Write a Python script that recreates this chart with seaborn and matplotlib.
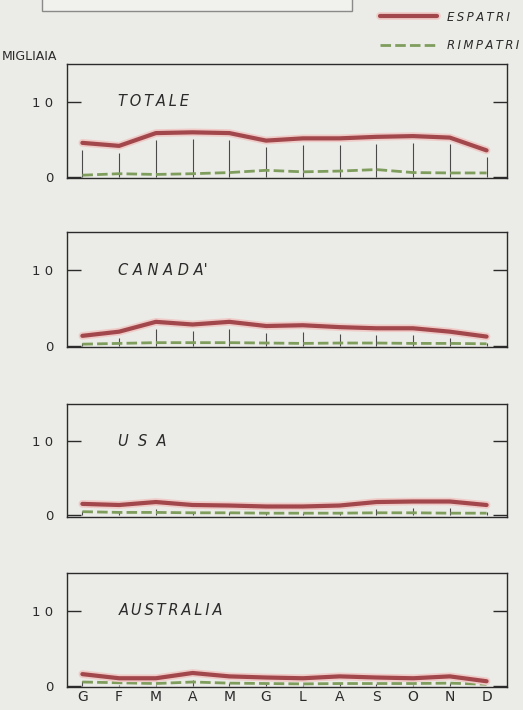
import numpy as np
import pandas as pd
import matplotlib
matplotlib.use('Agg')
import matplotlib.pyplot as plt
import matplotlib.patheffects as pe
import matplotlib.transforms as mtrans
from matplotlib.patches import Rectangle
from matplotlib.lines import Line2D
import seaborn as sns

# ====================== DATA (migliaia) ======================
mesi = ['G', 'F', 'M', 'A', 'M', 'G', 'L', 'A', 'S', 'O', 'N', 'D']
pannelli = ['T\u2009O\u2009T\u2009A\u2009L\u2009E', "C A N A D A'", 'U  S  A',
            'A\u2009U\u2009S\u2009T\u2009R\u2009A\u2009L\u2009I\u2009A']
legenda = ['E\u2009S\u2009P\u2009A\u2009T\u2009R\u2009I',
           'R\u2009I\u2009M\u2009P\u2009A\u2009T\u2009R\u2009I']

espatri_totale = [4.5, 4.1, 5.8, 5.9, 5.8, 4.8, 5.1, 5.1, 5.3, 5.4, 5.2, 3.5]
rimpatri_totale = [0.2, 0.4, 0.3, 0.4, 0.55, 0.85, 0.65, 0.75, 0.95, 0.55, 0.5, 0.5]

espatri_canada = [1.3, 1.85, 3.15, 2.8, 3.15, 2.6, 2.7, 2.45, 2.3, 2.3, 1.85, 1.2]
rimpatri_canada = [0.2, 0.3, 0.4, 0.4, 0.4, 0.35, 0.3, 0.35, 0.35, 0.3, 0.3, 0.25]

espatri_usa = [1.55, 1.4, 1.8, 1.4, 1.33, 1.2, 1.2, 1.33, 1.8, 1.87, 1.87, 1.4]
rimpatri_usa = [0.5, 0.4, 0.4, 0.35, 0.35, 0.3, 0.3, 0.3, 0.35, 0.35, 0.3, 0.3]

espatri_australia = [1.55, 1.0, 1.0, 1.7, 1.25, 1.1, 1.0, 1.25, 1.1, 1.0, 1.25, 0.6]
rimpatri_australia = [0.5, 0.4, 0.3, 0.5, 0.35, 0.3, 0.25, 0.3, 0.3, 0.3, 0.35, 0.2]

serie_esp = [espatri_totale, espatri_canada, espatri_usa, espatri_australia]
serie_rim = [rimpatri_totale, rimpatri_canada, rimpatri_usa, rimpatri_australia]

# ====================== STYLE ======================
BG = '#ebebe7'
RED = '#a2474b'
HALO = '#efcac6'
GREEN = '#7f9e5e'
INK = '#2b2b2b'

sns.set_theme(style='white')
plt.rcParams['font.family'] = ['DejaVu Sans']

fig = plt.figure(figsize=(5.23, 7.10), dpi=100, facecolor=BG)

# cut-off caption box at the top
fig.patches.append(Rectangle((42 / 523, 1 - 11 / 710), 310 / 523, 20 / 710,
                             transform=fig.transFigure, facecolor='#f1f1ee',
                             edgecolor='#8a8a88', lw=1.0, zorder=0))

# axes rectangles [left, bottom, width, height]
boxes = [
    [0.128, 0.749, 0.841, 0.161],
    [0.128, 0.511, 0.841, 0.162],
    [0.128, 0.272, 0.841, 0.159],
    [0.128, 0.032, 0.841, 0.161],
]

x = np.arange(len(mesi))
halo = [pe.Stroke(linewidth=5.5, foreground=HALO), pe.Normal()]

for i, (nome, esp, rim) in enumerate(zip(pannelli, serie_esp, serie_rim)):
    ax = fig.add_axes(boxes[i])
    ax.set_facecolor(BG)
    df = pd.DataFrame({'x': x, 'espatri': esp, 'rimpatri': rim})

    # thin month stems under the emigration line
    ax.vlines(df['x'], 0, np.clip(df['espatri'] - 0.9, 0, None),
              color='#4a4a4a', lw=0.8, zorder=1)

    sns.lineplot(data=df, x='x', y='rimpatri', ax=ax, color=GREEN, lw=2.0,
                 zorder=2).lines[-1].set_dashes([3.8, 1.5])
    l = sns.lineplot(data=df, x='x', y='espatri', ax=ax, color=RED, lw=3.0,
                     zorder=3).lines[-1]
    l.set_path_effects(halo)

    ax.set_xlim(-0.42, 11.55)
    ax.set_ylim(-0.2, 15)
    ax.set_yticks([0, 10])
    ax.set_yticklabels(['0', '1 0'])
    ax.tick_params(axis='y', direction='in', length=10, width=1.0, color=INK,
                   left=True, right=True, labelsize=9.5, labelcolor=INK, pad=10)
    ax.set_xticks(x)
    if i == len(pannelli) - 1:
        ax.set_xticklabels(mesi, fontsize=10, color=INK)
        ax.tick_params(axis='x', length=0, pad=2)
    else:
        ax.set_xticklabels([])
        ax.tick_params(axis='x', length=0)
    ax.set_xlabel('')
    ax.set_ylabel('')
    for s in ax.spines.values():
        s.set_color(INK)
        s.set_linewidth(1.0)

    tr = mtrans.blended_transform_factory(ax.transAxes, ax.transData)
    ax.text(0.117, 10, nome, transform=tr, fontsize=10.5, style='italic',
            color=INK, va='center', ha='left')

fig.text(2 / 523, 1 - 56 / 710, 'MIGLIAIA', fontsize=9, color=INK,
         va='center', ha='left')

handles = [
    Line2D([], [], color=RED, lw=3.0, path_effects=halo),
    Line2D([], [], color=GREEN, lw=2.0, dashes=[3.8, 1.5]),
]
fig.legend(handles, legenda, loc='upper right',
           bbox_to_anchor=(1.013, 1.0), frameon=False, handlelength=4.8,
           handletextpad=0.85, labelspacing=1.3,
           prop={'style': 'italic', 'size': 8.5}, labelcolor=INK)

fig.savefig('out.png', dpi=100, facecolor=BG)
